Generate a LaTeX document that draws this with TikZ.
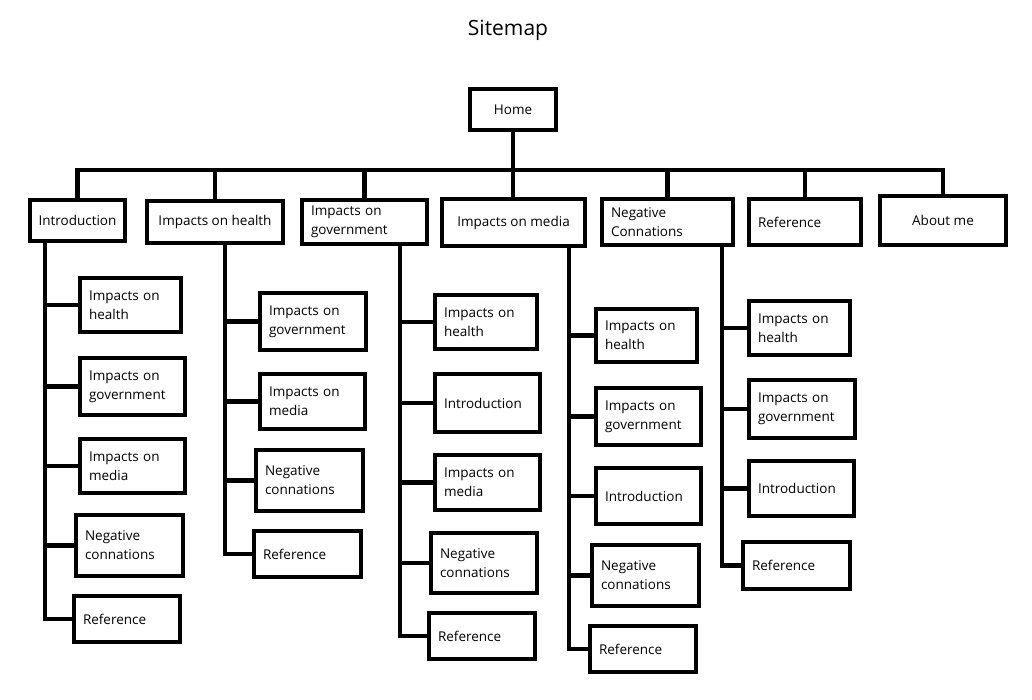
\documentclass[tikz,border=0pt]{standalone}
\usepackage{fontspec}
\setmainfont{Open Sans}
\hyphenpenalty=10000

\begin{document}
\begin{tikzpicture}[x=1pt, y=-1pt,
  box/.style={draw, line width=4pt, inner xsep=9pt, inner ysep=0pt, align=left,
    font=\fontsize{13.5}{19}\selectfont},
  link/.style={line width=4.5pt}]
  \useasboundingbox (0,0) rectangle (1032,700);
  \node[font=\fontsize{21}{25}\selectfont] (title) at (508,30) {Sitemap};

  \node[box, minimum width=86pt, minimum height=41pt] (home) at (513,109.5) {Home};
  \node[box, minimum width=95pt, minimum height=41pt] (intro) at (77.5,220.5) {Introduction};
  \node[box, minimum width=136pt, minimum height=42pt] (health) at (215,222) {Impacts on health};
  \node[box, text width=107pt, minimum height=44pt] (gov) at (364.5,222) {Impacts on\\government};
  \node[box, minimum width=143pt, minimum height=47pt] (media) at (513.5,222.5) {Impacts on media};
  \node[box, text width=113pt, minimum height=46pt] (neg) at (667.5,222) {Negative\\Connations};
  \node[box, text width=94pt, minimum height=46pt] (ref) at (805,222) {Reference};
  \node[box, minimum width=126pt, minimum height=49pt] (about) at (943,220.5) {About me};

  \node[box, text width=83pt, minimum height=54pt] (c1a) at (130.5,305) {Impacts on\\health};
  \node[box, text width=87pt, minimum height=57pt] (c1b) at (132.5,386.5) {Impacts on\\government};
  \node[box, text width=87pt, minimum height=54pt] (c1c) at (132.5,466) {Impacts on\\media};
  \node[box, text width=89pt, minimum height=61pt] (c1d) at (129.5,545.5) {Negative\\connations};
  \node[box, text width=88pt, minimum height=46pt] (c1e) at (127,619) {Reference};

  \node[box, text width=88pt, minimum height=57pt] (c2a) at (313,321.5) {Impacts on\\government};
  \node[box, text width=87pt, minimum height=55pt] (c2b) at (312.5,401.5) {Impacts on\\media};
  \node[box, text width=89pt, minimum height=61pt] (c2c) at (309.5,480.5) {Negative\\connations};
  \node[box, text width=89pt, minimum height=46pt] (c2d) at (307.5,554) {Reference};

  \node[box, text width=84pt, minimum height=54pt] (c3a) at (486,322) {Impacts on\\health};
  \node[box, text width=87pt, minimum height=58pt] (c3b) at (487.5,403) {Introduction};
  \node[box, text width=87pt, minimum height=55pt] (c3c) at (487.5,482.5) {Impacts on\\media};
  \node[box, text width=88pt, minimum height=60pt] (c3d) at (484,563) {Negative\\connations};
  \node[box, text width=88pt, minimum height=46pt] (c3e) at (482,636) {Reference};

  \node[box, text width=83pt, minimum height=53pt] (c4a) at (646.5,335.5) {Impacts on\\health};
  \node[box, text width=87pt, minimum height=57pt] (c4b) at (648.5,416.5) {Impacts on\\government};
  \node[box, text width=87pt, minimum height=56pt] (c4c) at (648.5,496) {Introduction};
  \node[box, text width=89pt, minimum height=61pt] (c4d) at (645.5,575.5) {Negative\\connations};
  \node[box, text width=88pt, minimum height=46pt] (c4e) at (643,649) {Reference};

  \node[box, text width=83pt, minimum height=54pt] (c5a) at (799.5,328) {Impacts on\\health};
  \node[box, text width=88pt, minimum height=58pt] (c5b) at (802,409) {Impacts on\\government};
  \node[box, text width=87pt, minimum height=55pt] (c5c) at (801.5,488.5) {Introduction};
  \node[box, text width=89pt, minimum height=47pt] (c5d) at (796.5,565.5) {Reference};

  \coordinate (bus) at (512,170);
  \draw[link] (home.south) -- (home.south |- media.north);
  \draw[link, line cap=rect] (intro.north |- bus) -- (about.north |- bus);
  \foreach \n in {intro,health,gov,neg,ref,about}
    \draw[link] (\n.north) -- (\n.north |- bus);

  \coordinate (v1) at ([xshift=-32.5pt]intro.south);
  \coordinate (v2) at ([xshift=10pt]health.south);
  \coordinate (v3) at ([xshift=35.5pt]gov.south);
  \coordinate (v4) at ([xshift=55.5pt]media.south);
  \coordinate (v5) at ([xshift=54.5pt]neg.south);
  \draw[link] (v1) |- (c1e.west);
  \draw[link] (v2) |- (c2d.west);
  \draw[link] (v3) |- (c3e.west);
  \draw[link] (v4) |- (c4e.west);
  \draw[link] (v5) |- (c5d.west);
  \foreach \n in {c1a,c1b,c1c,c1d} \draw[link] (\n.west) -- (\n.west -| v1);
  \foreach \n in {c2a,c2b,c2c} \draw[link] (\n.west) -- (\n.west -| v2);
  \foreach \n in {c3a,c3b,c3c,c3d} \draw[link] (\n.west) -- (\n.west -| v3);
  \foreach \n in {c4a,c4b,c4c,c4d} \draw[link] (\n.west) -- (\n.west -| v4);
  \foreach \n in {c5a,c5b,c5c} \draw[link] (\n.west) -- (\n.west -| v5);
\end{tikzpicture}
\end{document}
